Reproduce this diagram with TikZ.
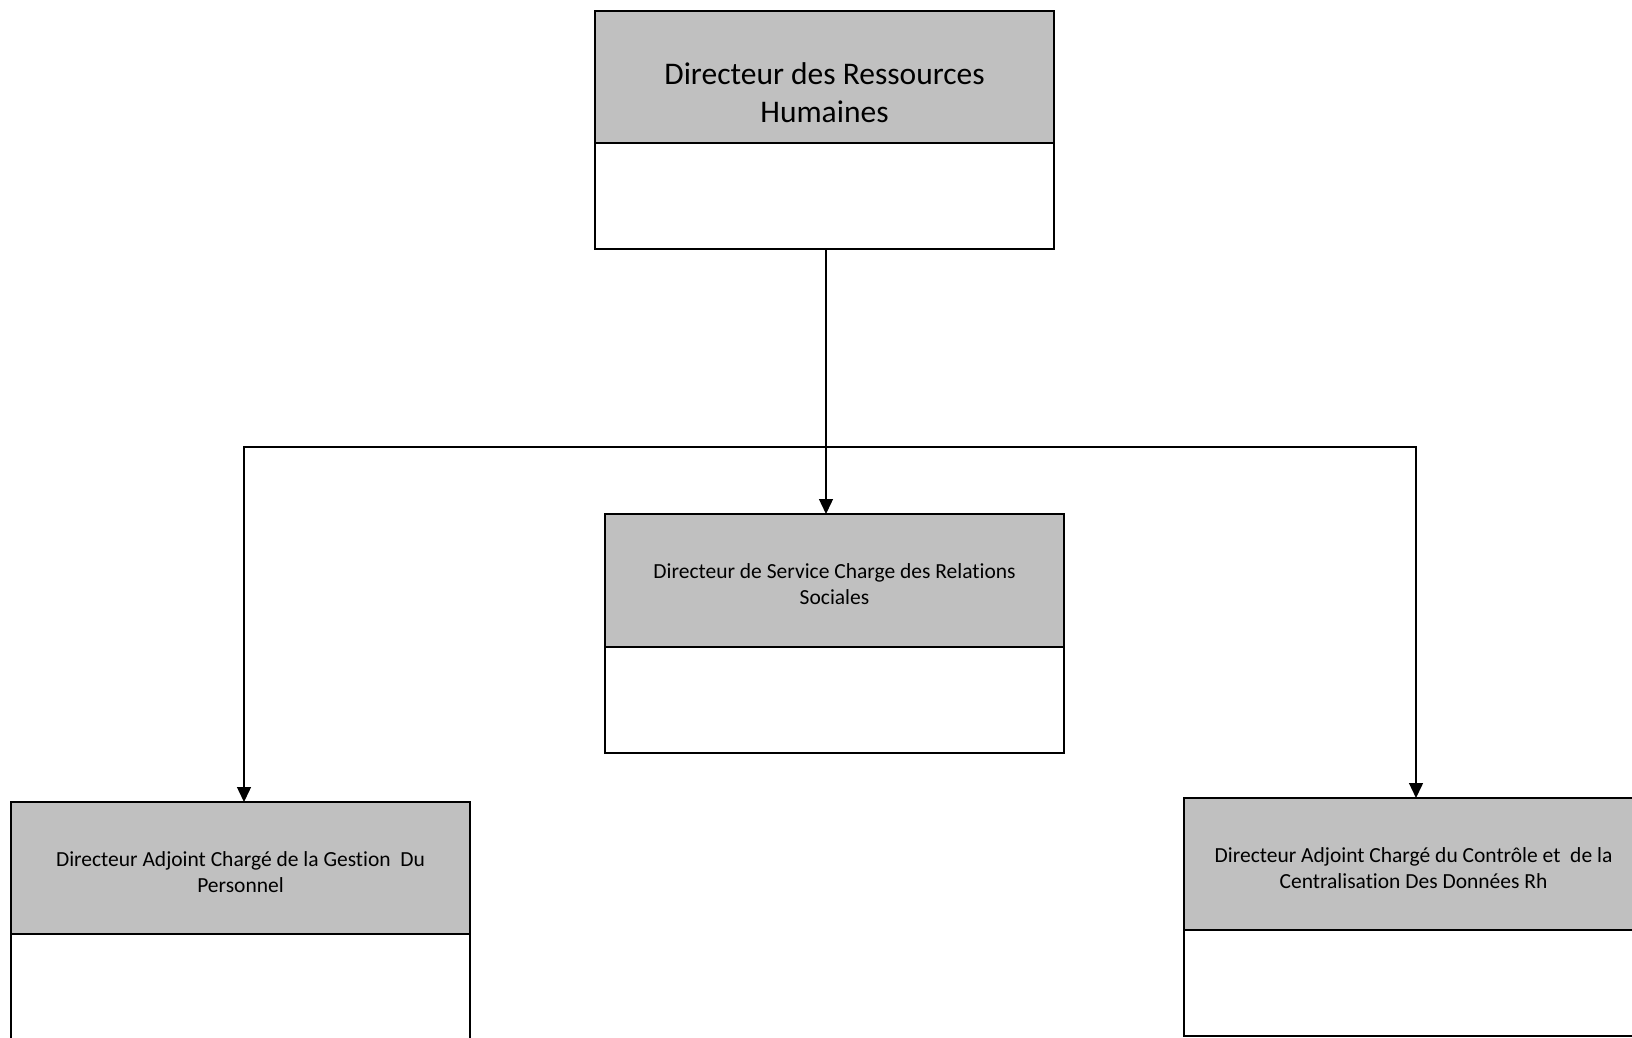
\documentclass[tikz,border=0pt]{standalone}
\usepackage{fontspec}
\setmainfont[Ligatures=NoCommon]{Carlito}
\usetikzlibrary{arrows.meta}

\definecolor{headgray}{HTML}{C0C0C0}

\tikzset{
  head/.style={draw=black, line width=1.6pt, fill=headgray, rectangle,
               minimum width=459pt, inner sep=0pt, outer sep=0pt},
  body/.style={draw=black, line width=1.6pt, fill=white, rectangle,
               minimum width=459pt, minimum height=106pt, inner sep=0pt, outer sep=0pt},
  bigtxt/.style={align=center, inner sep=0pt, font=\fontsize{31.5}{38.6}\selectfont},
  smalltxt/.style={align=center, inner sep=0pt, font=\fontsize{21.5}{26.2}\selectfont},
  link/.style={draw=black, line width=1.4pt},
  arr/.style={link, -{Triangle[length=15pt,width=14pt]}}
}

\begin{document}
\begin{tikzpicture}[x=1pt, y=-1pt]
  \useasboundingbox (0,0) rectangle (1632,1038);
  \fill[white] (0,0) rectangle (1632,1038);

  % Director of Human Resources
  \node[head, minimum height=132pt] (d0) at (824.5,77) {};
  \node[body, anchor=north] (d0b) at (d0.south) {};
  \node[bigtxt] (d0t) at (824.5,92.6) {Directeur des Ressources\\Humaines};

  % Social relations service
  \node[head, minimum height=133pt] (c1) at (834.5,580.5) {};
  \node[body, anchor=north] (c1b) at (c1.south) {};
  \node[smalltxt] (c1t) at (834.5,583.9) {Directeur de Service Charge des Relations\\Sociales};

  % Personnel management
  \node[head, minimum height=132pt] (c0) at (240.5,868) {};
  \node[body, anchor=north] (c0b) at (c0.south) {};
  \node[smalltxt] (c0t) at (240.5,872.1) {Directeur Adjoint Chargé de la Gestion~ Du\\Personnel};

  % Control and HR data
  \node[head, minimum height=132pt] (c2) at (1413.5,864) {};
  \node[body, anchor=north] (c2b) at (c2.south) {};
  \node[smalltxt] (c2t) at (1413.5,868.1) {Directeur Adjoint Chargé du Contrôle et~ de la\\Centralisation Des Données Rh};

  % Connectors
  \coordinate (j) at ([xshift=1.5pt]d0b.south |- 0,447);
  \draw[arr] ([xshift=1.5pt]d0b.south) -- (j |- c1.north);
  \draw[arr] (j) -| ([xshift=3.5pt]c0.north);
  \draw[arr] (j) -| ([xshift=2.5pt]c2.north);
\end{tikzpicture}
\end{document}
